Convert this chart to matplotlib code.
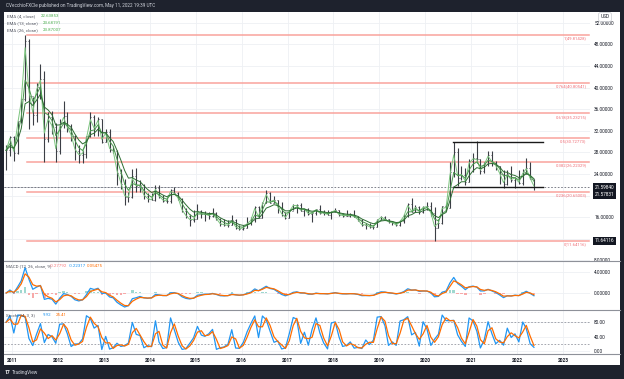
import numpy as np
import pandas as pd
import matplotlib
matplotlib.use('Agg')
import matplotlib.pyplot as plt
import matplotlib.dates as mdates
from matplotlib.lines import Line2D

plt.rcParams['font.family'] = ['Roboto', 'DejaVu Sans']

# monthly silver bars, Nov 2010 .. May 2022
months = pd.date_range('2010-11-01', periods=139, freq='MS') + pd.Timedelta(days=14)
high = [29.3, 31.0,
        31.0, 33.9, 38.1, 49.8, 49.0, 38.2, 40.9, 44.3, 43.0, 35.4, 35.6, 33.5,
        34.1, 37.5, 35.4, 33.3, 31.2, 29.3, 28.4, 31.1, 35.4, 35.0, 34.5, 34.1,
        32.4, 32.3, 29.2, 28.4, 25.0, 23.0, 20.6, 25.0, 25.1, 22.9, 22.2, 20.4,
        20.5, 21.9, 21.9, 20.2, 19.7, 21.2, 21.6, 20.6, 19.6, 17.7, 16.6, 17.3,
        18.5, 17.4, 17.2, 16.9, 17.8, 17.0, 15.8, 15.6, 15.5, 16.4, 15.7, 14.6,
        14.6, 16.0, 16.1, 18.0, 18.1, 18.8, 21.1, 20.6, 20.0, 19.2, 18.9, 17.0,
        17.3, 18.5, 18.5, 18.7, 17.5, 17.7, 16.9, 17.5, 18.2, 17.4, 17.4, 17.1,
        17.7, 17.4, 16.8, 17.3, 16.8, 17.3, 16.2, 15.6, 14.9, 14.9, 14.5, 15.6,
        16.2, 16.2, 15.6, 15.3, 15.0, 15.5, 16.6, 18.6, 19.6, 18.2, 18.0, 18.0,
        18.9, 18.9, 17.9, 15.6, 18.0, 18.5, 26.2, 29.9, 28.9, 25.4, 25.1, 26.8,
        27.9, 30.1, 26.7, 26.3, 28.3, 28.3, 26.4, 25.5, 24.8, 24.8, 25.4, 23.4,
        24.7, 25.0, 27.0, 26.2, 23.0]
low = [24.8, 27.3,
       26.4, 27.7, 33.4, 37.6, 32.3, 33.0, 33.6, 37.9, 26.2, 29.9, 31.4, 26.2,
       27.7, 32.6, 31.8, 30.2, 26.6, 26.1, 26.1, 26.9, 30.9, 31.0, 31.0, 29.8,
       29.9, 28.1, 27.9, 22.0, 21.2, 18.2, 18.8, 19.5, 20.6, 20.7, 19.4, 18.8,
       19.2, 19.1, 19.6, 18.9, 18.7, 18.7, 20.3, 19.2, 16.9, 15.9, 14.4, 15.1,
       15.6, 15.8, 15.3, 15.7, 16.1, 15.5, 14.4, 14.3, 14.2, 14.5, 13.9, 13.6,
       13.6, 14.1, 14.6, 15.1, 15.9, 15.8, 18.7, 18.6, 18.6, 16.7, 16.3, 15.6,
       15.9, 17.4, 16.8, 17.1, 16.2, 16.5, 15.2, 16.4, 16.6, 16.5, 16.4, 15.6,
       16.9, 16.2, 16.1, 16.2, 16.1, 16.0, 15.3, 14.3, 13.9, 14.1, 13.9, 14.2,
       15.4, 15.6, 14.9, 14.6, 14.3, 14.3, 14.9, 16.1, 17.0, 17.0, 16.6, 16.8,
       17.4, 16.3, 11.64, 14.0, 14.8, 17.1, 17.8, 23.4, 21.7, 22.9, 21.9, 22.6,
       24.3, 26.1, 24.0, 24.1, 25.5, 25.5, 24.8, 22.2, 21.4, 21.9, 22.6, 21.4,
       22.1, 22.0, 24.0, 23.0, 21.0]
close = [28.4, 30.9,
         27.9, 33.9, 37.9, 48.6, 38.4, 34.9, 40.1, 41.6, 30.4, 34.5, 32.8, 28.2,
         33.2, 34.7, 32.5, 31.1, 28.3, 27.5, 27.8, 31.0, 34.5, 32.3, 34.1, 30.0,
         31.7, 28.4, 28.3, 24.2, 22.2, 19.7, 19.7, 23.6, 21.7, 21.9, 19.9, 19.4,
         19.2, 21.4, 19.8, 19.1, 19.0, 21.0, 20.4, 19.4, 17.1, 16.2, 15.5, 15.6,
         17.2, 16.6, 16.6, 16.3, 16.8, 15.6, 14.7, 14.6, 14.5, 15.5, 14.1, 13.8,
         14.1, 14.9, 15.5, 17.9, 15.9, 18.7, 20.4, 18.7, 19.2, 17.8, 16.5, 15.9,
         17.2, 18.3, 18.2, 17.2, 17.5, 16.6, 16.7, 17.5, 16.7, 16.8, 16.5, 17.0,
         17.3, 16.4, 16.3, 16.3, 16.4, 16.1, 15.5, 14.5, 14.6, 14.2, 14.2, 15.5,
         16.1, 15.6, 15.1, 15.0, 14.5, 15.3, 16.3, 18.4, 17.0, 17.9, 17.0, 17.9,
         18.0, 16.7, 14.0, 15.0, 18.0, 17.8, 24.4, 28.0, 23.2, 23.9, 22.6, 26.4,
         26.9, 26.7, 24.5, 25.9, 27.5, 26.1, 25.5, 24.0, 22.2, 24.0, 22.9, 23.3,
         22.4, 24.3, 25.1, 23.0, 21.6]

fib_ratios = ['1', '0.764', '0.618', '0.5', '0.382', '0.236', '0']
fib_values = [49.81428, 40.80541, 35.23215, 30.72773, 26.22329, 20.65003, 11.64116]
fib_start = '2011-04-29'
fib_end = '2023-07-28'

box_top = 29.86
box_support = 21.57831
last_price = 21.59840
box_start, box_end = '2020-08-07', '2022-07-25'

ema_legend = [('EMA (4, close)', '22.63853'), ('EMA (13, close)', '23.68191'),
              ('EMA (26, close)', '23.87007')]
macd_legend = ['-0.27792', '-0.22317', '0.05475']
stoch_legend = ['9.92', '25.41']

main_ticks = [8, 12, 16, 20, 24, 28, 32, 36, 40, 44, 48, 52]
macd_ticks = [0, 4]
stoch_ticks = [0, 40, 80]

high = np.array(high); low = np.array(low); close = np.array(close)
opn = np.r_[close[0], close[:-1]]


def ema(vals, weeks):
    # weekly EMA span turned into a per-month smoothing factor
    a = 1 - (1 - 2.0 / (weeks + 1)) ** 4.35
    out, e = [], vals[0]
    for v in vals:
        e = a * v + (1 - a) * e
        out.append(e)
    return np.array(out)


ema4, ema13, ema26 = ema(close, 4), ema(close, 13), ema(close, 26)
macd = ema(close, 12) - ema(close, 26)
signal = ema(macd, 9)
hist = macd - signal

k = []
for i in range(len(close)):
    lo = low[max(0, i - 2):i + 1].min()
    hi = high[max(0, i - 2):i + 1].max()
    k.append(100 * (close[i] - lo) / (hi - lo))
k = np.array(k)
d = (k + np.r_[k[0], k[:-1]]) / 2

W, H = 624, 379
DARK = '#1e222d'
TXT = '#131722'


def box(x0, y0, x1, y1):
    return [x0 / W, 1 - y1 / H, (x1 - x0) / W, (y1 - y0) / H]


def fx(x):
    return x / W


def fy(y):
    return 1 - y / H


fig = plt.figure(figsize=(6.24, 3.79), dpi=100, facecolor=DARK)
bg = fig.add_axes(box(4, 12, 620, 365))
bg.set_facecolor('white')
bg.set_xticks([]); bg.set_yticks([])
for s in bg.spines.values():
    s.set_visible(False)

ax = fig.add_axes(box(4, 12, 590, 261))
axm = fig.add_axes(box(4, 261, 590, 310), sharex=ax)
axs = fig.add_axes(box(4, 310, 590, 354), sharex=ax)

for a in (ax, axm, axs):
    a.set_facecolor('none')
    for s in a.spines.values():
        s.set_visible(False)
    a.yaxis.tick_right()
    a.tick_params(axis='y', length=0, pad=3, labelsize=3.4, labelcolor=TXT)
    a.tick_params(axis='x', length=0, pad=3, labelsize=3.4, labelcolor=TXT)
    a.grid(color='#eef0f4', lw=0.6)
    a.set_axisbelow(True)

ax.xaxis.set_major_locator(mdates.YearLocator())
ax.xaxis.set_major_formatter(mdates.DateFormatter('%Y'))
ax.set_xlim(pd.Timestamp('2010-10-29'), pd.Timestamp('2023-08-04'))
plt.setp(ax.get_xticklabels(), visible=False)
plt.setp(axm.get_xticklabels(), visible=False)

# main panel
ax.set_ylim(7.9, 54.0)
ax.set_yticks(main_ticks)
ax.set_yticklabels(['' if t in (12, 20) else '%.5f' % t for t in main_ticks])

for r, v in zip(fib_ratios, fib_values):
    ax.plot([pd.Timestamp(fib_start), pd.Timestamp(fib_end)], [v, v],
            color='#f9a39c', lw=1.1, zorder=2)
    ax.text(pd.Timestamp(fib_end) - pd.Timedelta(days=20), v - 0.25,
            '%s(%.5f)' % (r, v), color='#f0727a', fontsize=3.1,
            ha='right', va='top', zorder=5)

ax.plot([pd.Timestamp('2010-10-29'), pd.Timestamp('2014-09-10')], [last_price] * 2,
        color='#c8cad0', lw=0.7, zorder=2)
ax.axhline(last_price, color='#6a6d78', lw=0.6, ls=(0, (2, 2)), zorder=3)
ax.plot([pd.Timestamp(box_start), pd.Timestamp(box_end)], [box_top] * 2,
        color='#1a1a1a', lw=1.0, zorder=4)
ax.plot([pd.Timestamp(box_start), pd.Timestamp(box_end)], [box_support] * 2,
        color='#1a1a1a', lw=1.0, zorder=4)

half = pd.Timedelta(days=8)
ax.vlines(months, low, high, color='#3b3e45', lw=0.8, zorder=3)
ax.hlines(opn, months - half, months, color='#3b3e45', lw=0.6, zorder=3)
ax.hlines(close, months, months + half, color='#3b3e45', lw=0.6, zorder=3)
ax.plot(months, ema4, color='#7cc47f', lw=0.7, zorder=4)
ax.plot(months, ema13, color='#4a9a4e', lw=0.7, zorder=4)
ax.plot(months, ema26, color='#2e6e33', lw=0.7, zorder=4)

# right-axis price flags
for val, off in ((last_price, 0), (box_support, -7.5), (fib_values[-1], 0)):
    ax.annotate('%.5f' % val, xy=(1, val), xycoords=('axes fraction', 'data'),
                xytext=(3.5, off * 0.72), textcoords='offset points',
                color='white', fontsize=3.4, va='center', ha='left',
                bbox=dict(boxstyle='square,pad=0.35', fc=TXT, ec='none'),
                annotation_clip=False, zorder=10)
fig.text(fx(605), fy(17), 'USD', color=TXT, fontsize=3.4, ha='center', va='center',
         bbox=dict(boxstyle='round,pad=0.4', fc='white', ec='#c9cbd1', lw=0.5))

# MACD panel
axm.set_ylim(-3.3, 6.2)
axm.set_yticks(macd_ticks)
axm.set_yticklabels(['%.5f' % t for t in macd_ticks])
axm.bar(months, hist, width=20,
        color=np.where(hist >= 0, '#9fd8cf', '#f7a9a9'), zorder=2)
axm.plot(months, macd, color='#2196f3', lw=0.9, zorder=3)
axm.plot(months, signal, color='#ff6d00', lw=0.9, zorder=3)

# Stochastic panel
axs.set_ylim(-8.6, 114)
axs.set_yticks(stoch_ticks)
axs.set_yticklabels(['%.2f' % t for t in stoch_ticks])
axs.axhline(80, color='#9598a1', lw=0.6, ls=(0, (2, 2)))
axs.axhline(20, color='#9598a1', lw=0.6, ls=(0, (2, 2)))
axs.plot(months, k, color='#2196f3', lw=0.9, zorder=3)
axs.plot(months, d, color='#ff6d00', lw=0.9, zorder=3)
for lab in axs.get_xticklabels():
    lab.set_fontweight('bold')

# panel separators
for y in (261, 310, 354):
    fig.add_artist(Line2D([fx(4), fx(620)], [fy(y), fy(y)], color='#8e9199', lw=0.8))

# header, legends, footer
fig.text(fx(6), fy(6), 'CVecchioFXCle published on TradingView.com, May 11, 2022 19:39 UTC',
         color='#d1d4dc', fontsize=3.3, va='center')
for i, (lab, val) in enumerate(ema_legend):
    y = fy(16 + 7 * i)
    fig.text(fx(7), y, lab, color='#50535e', fontsize=3.2, va='center')
    fig.text(fx(41 if i == 0 else 43), y, val, color='#4caf50', fontsize=3.2, va='center')
fig.text(fx(6), fy(266), 'MACD (12, 26, close, 9)', color='#50535e', fontsize=3.2, va='center')
for xv, val, c in zip((50, 69, 87), macd_legend, ('#f77c80', '#2196f3', '#ff6d00')):
    fig.text(fx(xv), fy(266), val, color=c, fontsize=3.2, va='center')
fig.text(fx(6), fy(315), 'Stoch (14, 3, 3)', color='#50535e', fontsize=3.2, va='center')
for xv, val, c in zip((43, 56), stoch_legend, ('#2196f3', '#ff6d00')):
    fig.text(fx(xv), fy(315), val, color=c, fontsize=3.2, va='center')
fig.text(fx(5), fy(372.5), '17', color='white', fontsize=3.6, fontweight='bold', va='center')
fig.text(fx(12), fy(372.5), 'TradingView', color='#d1d4dc', fontsize=3.4, va='center')

fig.savefig('out.png', dpi=100, facecolor=DARK)
